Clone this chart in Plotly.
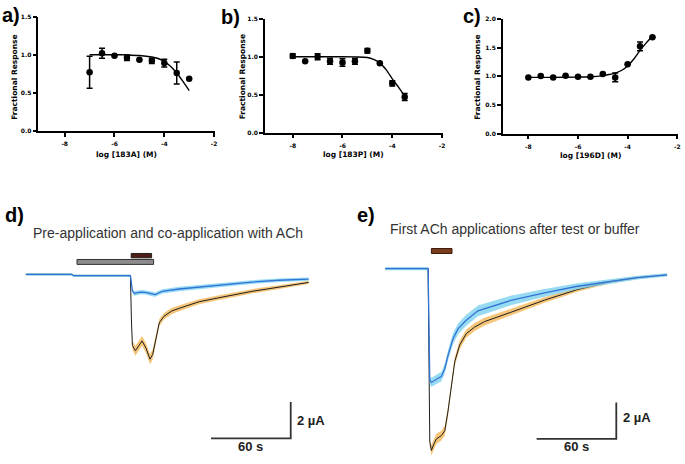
import numpy as np
import plotly.graph_objects as go

W, H = 685, 464

# ---------------- panel a : log [183A] ----------------
a_logc = [-7, -6.5, -6, -5.5, -5, -4.5, -4, -3.5, -3]
a_resp = [0.77, 1.02, 0.985, 0.96, 0.935, 0.92, 0.89, 0.76, 0.685]
a_err = [0.21, 0.065, 0.0, 0.035, 0.0, 0.035, 0.05, 0.145, 0.0]
a_fit_x = [-7, -6.5, -6, -5.5, -5, -4.5, -4.25, -4, -3.75, -3.5, -3.25, -3]
a_fit_y = [1.0, 1.0, 1.0, 0.997, 0.99, 0.97, 0.95, 0.91, 0.85, 0.76, 0.65, 0.53]

# ---------------- panel b : log [183P] ----------------
b_logc = [-8, -7.5, -7, -6.5, -6, -5.5, -5, -4.5, -4, -3.5]
b_resp = [1.01, 0.94, 1.0, 0.94, 0.925, 0.94, 1.08, 0.915, 0.65, 0.47]
b_err = [0.03, 0.0, 0.04, 0.04, 0.05, 0.04, 0.03, 0.0, 0.035, 0.045]
b_fit_x = [-8, -7, -6, -5.5, -5, -4.75, -4.5, -4.25, -4, -3.75, -3.5]
b_fit_y = [1.0, 1.0, 1.0, 0.998, 0.99, 0.965, 0.92, 0.83, 0.71, 0.60, 0.48]

# ---------------- panel c : log [196D] ----------------
c_logc = [-8, -7.5, -7, -6.5, -6, -5.5, -5, -4.5, -4, -3.5, -3]
c_resp = [0.98, 1.005, 0.98, 1.01, 0.99, 0.99, 1.04, 0.98, 1.21, 1.52, 1.68]
c_err = [0, 0, 0, 0, 0, 0, 0, 0.075, 0, 0.075, 0]
c_fit_x = [-8, -7, -6, -5.5, -5, -4.75, -4.5, -4.25, -4, -3.75, -3.5, -3.25, -3]
c_fit_y = [0.98, 0.98, 0.985, 0.99, 1.01, 1.03, 1.055, 1.10, 1.18, 1.30, 1.45, 1.58, 1.70]

x_tickvals = [-8, -6, -4, -2]
x_ticktext = ["-8", "-6", "-4", "-2"]
y_ticks_ab = [0, 0.5, 1.0, 1.5]
y_ticks_c = [0, 0.5, 1.0, 1.5, 2.0]

# ---------------- panel d : pre-/co-application (time s, current uA) ----------------
d_blue_t = [0, 34.5, 36, 78.75, 80.25, 81.75, 84, 87.25, 91, 94.5, 97.5, 100, 102.75,
            115.5, 130.5, 153, 170.25, 190.5, 213]
d_blue_i = [0, 0, -0.07, -0.07, -0.9, -1.05, -1.0, -0.97, -1.0, -1.08, -1.11, -1.02, -0.93,
            -0.8, -0.69, -0.54, -0.42, -0.32, -0.26]
d_blue_sem = [0.07, 0.07, 0.07, 0.07, 0.1, 0.12, 0.12, 0.12, 0.12, 0.12, 0.12, 0.12, 0.12,
              0.12, 0.11, 0.1, 0.1, 0.09, 0.09]
d_blk_t = [0, 34.5, 36, 78.75, 79.5, 80.25, 82.5, 84.5, 87.5, 90.5, 93.5, 95.5, 97.5,
           100.5, 104, 110, 120, 130.5, 145.5, 170.25, 195.75, 213]
d_blk_i = [0, 0, -0.07, -0.07, -2.5, -3.9, -4.19, -4.0, -3.65, -4.05, -4.65, -4.4, -3.7,
           -2.65, -2.3, -2.0, -1.75, -1.5, -1.28, -0.93, -0.64, -0.44]
d_blk_sem = [0.05, 0.05, 0.05, 0.05, 0.12, 0.24, 0.28, 0.28, 0.27, 0.27, 0.28, 0.28, 0.24,
             0.2, 0.18, 0.17, 0.15, 0.14, 0.13, 0.12, 0.1, 0.09]
d_pre_bar = [38.5, 96.2]      # test compound pre-/co-application (s)
d_ach_bar = [79.3, 94.7]      # ACh application (s)

# ---------------- panel e : first ACh applications ----------------
e_blue_t = [0, 32.25, 33.5, 34.7, 39.75, 42.2, 44.8, 47.25, 51, 54.75, 60.75, 69.75,
            94.5, 120, 144.75, 169.5, 189.75, 212.25]
e_blue_i = [0, 0, -6.1, -6.25, -6.02, -5.93, -5.48, -4.76, -3.85, -3.31, -2.85, -2.32,
            -1.75, -1.33, -0.97, -0.70, -0.5, -0.34]
e_blue_sem = [0.09, 0.09, 0.22, 0.25, 0.25, 0.25, 0.27, 0.28, 0.3, 0.3, 0.3, 0.29,
              0.26, 0.21, 0.16, 0.12, 0.1, 0.09]
e_blk_t = [0, 32.25, 33.5, 34.7, 36.75, 38.5, 42.2, 44.8, 47.25, 49.7, 52.3, 56, 61,
           67.3, 74.8, 94.5, 120, 144.75, 169.5, 189.75, 212.25]
e_blk_i = [0, 0, -9.5, -9.98, -9.6, -9.35, -9.17, -8.9, -7.82, -6.38, -5.11, -4.2, -3.57,
           -3.21, -2.91, -2.4, -1.73, -1.15, -0.72, -0.5, -0.34]
e_blk_sem = [0.05, 0.05, 0.22, 0.28, 0.28, 0.28, 0.27, 0.27, 0.27, 0.26, 0.25, 0.24, 0.23,
             0.22, 0.21, 0.19, 0.15, 0.12, 0.09, 0.07, 0.06]
e_ach_bar = [34.7, 50.25]

scale_time = 60   # s
scale_cur = 2     # uA

BLUE = "#3373d6"
BLUE_BAND = "rgba(125,210,240,0.8)"
ORANGE_BAND = "rgba(244,192,108,0.9)"
BLACK = "#1e1e1e"


def px_x(p):
    return p / W


def px_y(p):
    return 1 - p / H


fig = go.Figure()

# ---- dose response panels ----
for xa, ya, xs, ys, es, fx, fy in [
    ("x", "y", a_logc, a_resp, a_err, a_fit_x, a_fit_y),
    ("x2", "y2", b_logc, b_resp, b_err, b_fit_x, b_fit_y),
    ("x3", "y3", c_logc, c_resp, c_err, c_fit_x, c_fit_y),
]:
    fig.add_trace(go.Scatter(x=fx, y=fy, mode="lines",
                             line=dict(color="black", width=1.4, shape="spline", smoothing=0.8),
                             xaxis=xa, yaxis=ya, showlegend=False, hoverinfo="skip"))
    fig.add_trace(go.Scatter(x=xs, y=ys, mode="markers",
                             marker=dict(color="black", size=6.5, symbol="circle"),
                             error_y=dict(type="data", array=es, color="black", thickness=1.5, width=3),
                             xaxis=xa, yaxis=ya, showlegend=False, cliponaxis=False))


def band(t, m, s, color, xa, ya):
    t = np.array(t, float)
    m = np.array(m, float)
    s = np.array(s, float)
    xb = np.concatenate([t, t[::-1]])
    yb = np.concatenate([m + s, (m - s)[::-1]])
    return go.Scatter(x=xb, y=yb, fill="toself", fillcolor=color, mode="lines",
                      line=dict(width=0, color=color), xaxis=xa, yaxis=ya,
                      showlegend=False, hoverinfo="skip")


for xa, ya, bt, bi, bs, kt, ki, ks in [
    ("x4", "y4", d_blue_t, d_blue_i, d_blue_sem, d_blk_t, d_blk_i, d_blk_sem),
    ("x5", "y5", e_blue_t, e_blue_i, e_blue_sem, e_blk_t, e_blk_i, e_blk_sem),
]:
    fig.add_trace(band(kt, ki, ks, ORANGE_BAND, xa, ya))
    fig.add_trace(go.Scatter(x=kt, y=ki, mode="lines", line=dict(color=BLACK, width=1.0),
                             xaxis=xa, yaxis=ya, showlegend=False))
    fig.add_trace(band(bt, bi, bs, BLUE_BAND, xa, ya))
    fig.add_trace(go.Scatter(x=bt, y=bi, mode="lines", line=dict(color=BLUE, width=1.3),
                             xaxis=xa, yaxis=ya, showlegend=False))

# scale bars (data units)
d_sb_x0, d_sb_x1 = 139.5, 139.5 + scale_time
d_sb_y0 = -9.0
e_sb_x0, e_sb_x1 = 114, 114 + scale_time
e_sb_y0 = -9.35
fig.add_trace(go.Scatter(x=[d_sb_x0, d_sb_x1, d_sb_x1], y=[d_sb_y0, d_sb_y0, d_sb_y0 + scale_cur],
                         mode="lines", line=dict(color="#333333", width=1.8), xaxis="x4", yaxis="y4",
                         showlegend=False, hoverinfo="skip"))
fig.add_trace(go.Scatter(x=[e_sb_x0, e_sb_x1, e_sb_x1], y=[e_sb_y0, e_sb_y0, e_sb_y0 + scale_cur],
                         mode="lines", line=dict(color="#333333", width=1.8), xaxis="x5", yaxis="y5",
                         showlegend=False, hoverinfo="skip"))

shapes = [
    dict(type="rect", xref="x4", yref="y4", x0=d_pre_bar[0], x1=d_pre_bar[1], y0=0.55, y1=0.82,
         fillcolor="#8c8c8c", line=dict(color="#333333", width=1)),
    dict(type="rect", xref="x4", yref="y4", x0=d_ach_bar[0], x1=d_ach_bar[1], y0=0.91, y1=1.15,
         fillcolor="#4e1e16", line=dict(color="#222222", width=1)),
    dict(type="rect", xref="x5", yref="y5", x0=e_ach_bar[0], x1=e_ach_bar[1], y0=0.83, y1=1.10,
         fillcolor="#7a3c1c", line=dict(color="#3a1a0c", width=1)),
]

ax_font = dict(family="DejaVu Sans", size=6, color="black", weight="bold")
common_x = dict(showline=True, linecolor="black", linewidth=1.5, ticks="outside", ticklen=4,
                tickwidth=1.5, tickcolor="black", showgrid=False, zeroline=False,
                tickvals=x_tickvals, ticktext=x_ticktext, tickfont=ax_font, fixedrange=True,
                ticklabelstandoff=2)
common_y = dict(showline=True, linecolor="black", linewidth=1.5, ticks="outside", ticklen=4,
                tickwidth=1.5, tickcolor="black", showgrid=False, zeroline=False,
                tickfont=ax_font, tickformat=".1f", fixedrange=True)

hidden = dict(visible=False, showgrid=False, zeroline=False, fixedrange=True)

fig.update_layout(
    width=W, height=H, margin=dict(l=0, r=0, t=0, b=0),
    paper_bgcolor="white", plot_bgcolor="rgba(0,0,0,0)",
    xaxis=dict(common_x, domain=[px_x(38.5), px_x(216)], range=[-9.06, -1.96], anchor="y"),
    yaxis=dict(common_y, domain=[px_y(129), px_y(12.7)], range=[0, 1.5], tickvals=y_ticks_ab, anchor="x"),
    xaxis2=dict(common_x, domain=[px_x(266), px_x(444.5)], range=[-9.12, -1.98], anchor="y2"),
    yaxis2=dict(common_y, domain=[px_y(130.7), px_y(15)], range=[0, 1.5], tickvals=y_ticks_ab, anchor="x2"),
    xaxis3=dict(common_x, domain=[px_x(505), px_x(680.5)], range=[-9.03, -1.99], anchor="y3"),
    yaxis3=dict(common_y, domain=[px_y(131.7), px_y(15)], range=[0, 2.0], tickvals=y_ticks_c, anchor="x3"),
    xaxis4=dict(hidden, domain=[0, px_x(340)], range=[-19.5, 235.5], anchor="y4"),
    yaxis4=dict(hidden, domain=[0, px_y(200)], range=[-10.24, 4.03], anchor="x4"),
    xaxis5=dict(hidden, domain=[px_x(340), 1], range=[-35.25, 223.5], anchor="y5"),
    yaxis5=dict(hidden, domain=[0, px_y(200)], range=[-10.56, 3.71], anchor="x5"),
    shapes=shapes,
)

ann = []
lab_font = dict(family="Liberation Sans", size=20, color="black", weight="bold")
for txt, x, y in [("a)", 0, 11), ("b)", 220, 13), ("c)", 463, 12), ("d)", 3, 214), ("e)", 357, 214)]:
    ann.append(dict(text=txt, x=px_x(x), y=px_y(y), xref="paper", yref="paper", xanchor="left",
                    yanchor="middle", showarrow=False, font=lab_font))

tit_font = dict(family="DejaVu Sans", size=7.5, color="black", weight="bold")
for txt, x, y in [("log [183A] (M)", 127, 153.3), ("log [183P] (M)", 355, 153.3), ("log [196D] (M)", 593, 154)]:
    ann.append(dict(text=txt, x=px_x(x), y=px_y(y), xref="paper", yref="paper", xanchor="center",
                    yanchor="middle", showarrow=False, font=tit_font))
for x in [15, 243.5, 480]:
    ann.append(dict(text="Fractional Response", x=px_x(x), y=px_y(74), xref="paper", yref="paper",
                    xanchor="center", yanchor="middle", textangle=-90, showarrow=False, font=tit_font))

hdr_font = dict(family="Liberation Sans", size=14, color="#333333")
ann.append(dict(text="Pre-application and co-application with ACh", x=px_x(169), y=px_y(233),
                xref="paper", yref="paper", xanchor="center", yanchor="middle", showarrow=False, font=hdr_font))
ann.append(dict(text="First ACh applications after test or buffer", x=px_x(517), y=px_y(228),
                xref="paper", yref="paper", xanchor="center", yanchor="middle", showarrow=False, font=hdr_font))

sb_font = dict(family="Liberation Sans", size=13, color="#222222", weight="bold")
ann.append(dict(text="2 µA", x=d_sb_x1 + 3, y=d_sb_y0 + scale_cur / 2, xref="x4", yref="y4",
                xanchor="left", yanchor="middle", showarrow=False, font=sb_font))
ann.append(dict(text="60 s", x=(d_sb_x0 + d_sb_x1) / 2, y=-9.43, xref="x4", yref="y4",
                xanchor="center", yanchor="middle", showarrow=False, font=sb_font))
ann.append(dict(text="2 µA", x=e_sb_x1 + 3.5, y=-8.18, xref="x5", yref="y5",
                xanchor="left", yanchor="middle", showarrow=False, font=sb_font))
ann.append(dict(text="60 s", x=(e_sb_x0 + e_sb_x1) / 2, y=-9.75, xref="x5", yref="y5",
                xanchor="center", yanchor="middle", showarrow=False, font=sb_font))

fig.update_layout(annotations=ann)
fig.write_html("out.html", config={"displayModeBar": False},
               post_script="document.body.style.margin='0';document.body.style.overflow='hidden';")
